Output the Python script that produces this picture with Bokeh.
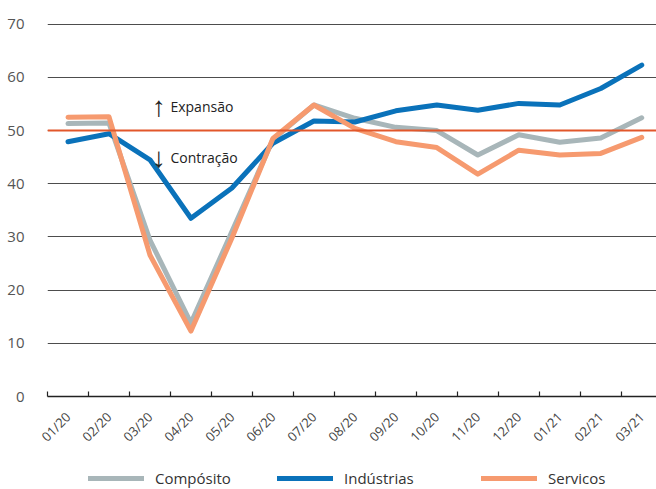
import math
from bokeh.plotting import figure
from bokeh.layouts import column
from bokeh.models import FixedTicker, Range1d, Span, Legend, LegendItem, Label
from bokeh.embed import file_html
from bokeh.resources import INLINE

months = ["01/20", "02/20", "03/20", "04/20", "05/20", "06/20", "07/20", "08/20",
          "09/20", "10/20", "11/20", "12/20", "01/21", "02/21", "03/21"]
composito = [51.3, 51.4, 29.4, 13.8, 31.0, 48.3, 54.8, 52.3, 50.6, 50.0, 45.4, 49.2, 47.8, 48.6, 52.4]
industrias = [47.9, 49.4, 44.5, 33.5, 39.2, 47.6, 51.8, 51.6, 53.7, 54.8, 53.8, 55.1, 54.8, 57.9, 62.3]
servicos = [52.5, 52.6, 26.6, 12.3, 29.8, 48.5, 54.8, 50.4, 47.9, 46.8, 41.8, 46.3, 45.4, 45.7, 48.7]
series_names = ["Comp\u00f3sito", "Ind\u00fastrias", "Servicos"]
y_ticks = [0, 10, 20, 30, 40, 50, 60, 70]

FONT = "Open Sans"
COLORS = ["#A8B6B9", "#0A72BA", "#F69A6F"]
xs = [i + 0.5 for i in range(len(months))]

p = figure(width=656, height=454, output_backend="svg", toolbar_location=None,
           x_range=Range1d(0, 14.86), y_range=Range1d(0, 72),
           min_border_left=47, min_border_right=0, min_border_top=13, min_border_bottom=57)
p.outline_line_color = None
p.background_fill_color = "white"
p.border_fill_color = "white"

# grid
p.xgrid.visible = False
p.ygrid.ticker = FixedTicker(ticks=[t for t in y_ticks if t > 0])
p.ygrid.grid_line_color = "#4d4d4d"
p.ygrid.grid_line_width = 1

# y axis
p.yaxis.ticker = FixedTicker(ticks=y_ticks)
p.yaxis.axis_line_color = None
p.yaxis.major_tick_line_color = None
p.yaxis.minor_tick_line_color = None
p.yaxis.major_label_standoff = 17
p.yaxis.major_label_text_font = FONT
p.yaxis.major_label_text_font_size = "15px"
p.yaxis.major_label_text_color = "#555555"

# x axis
p.xaxis.ticker = FixedTicker(ticks=xs, minor_ticks=list(range(len(months) + 1)))
p.xaxis.major_label_overrides = {x: m for x, m in zip(xs, months)}
p.xaxis.major_tick_line_color = None
p.xaxis.minor_tick_in = 5
p.xaxis.minor_tick_out = 0
p.xaxis.minor_tick_line_color = "#222222"
p.xaxis.minor_tick_line_width = 1.2
p.xaxis.axis_line_color = "#222222"
p.xaxis.axis_line_width = 1.5
p.xaxis.major_label_orientation = math.pi / 4
p.xaxis.major_label_standoff = 12
p.xaxis.major_label_text_font = FONT
p.xaxis.major_label_text_font_size = "13px"
p.xaxis.major_label_text_color = "#444444"

# threshold line
p.add_layout(Span(location=50, dimension="width", line_color="#E2572B", line_width=2))

for vals, col in zip([composito, industrias, servicos], COLORS):
    p.line(xs, vals, line_color=col, line_width=5, line_join="round", line_cap="round")

# annotations
p.add_layout(Label(x=2.72, y=54.8, text="\u2191", text_font=FONT, text_font_size="28px",
                   text_color="#222222", text_align="center", text_baseline="middle"))
p.add_layout(Label(x=3.0, y=54.5, text="Expans\u00e3o", text_font=FONT, text_font_size="14px",
                   text_color="#222222", text_align="left", text_baseline="middle"))
p.add_layout(Label(x=2.72, y=45.3, text="\u2193", text_font=FONT, text_font_size="28px",
                   text_color="#222222", text_align="center", text_baseline="middle"))
p.add_layout(Label(x=3.0, y=45.0, text="Contra\u00e7\u00e3o", text_font=FONT, text_font_size="14px",
                   text_color="#222222", text_align="left", text_baseline="middle"))

# legend strip (lines kept outside the visible range; only their legend glyphs show)
leg = figure(width=656, height=35, output_backend="svg", toolbar_location=None,
             x_range=Range1d(0, 1), y_range=Range1d(0, 1), min_border=0)
leg.axis.visible = False
leg.grid.visible = False
leg.outline_line_color = None
legend_x = [41, 230, 434]
for name, col, lx in zip(series_names, COLORS, legend_x):
    r = leg.line(x=[5, 6], y=[5, 5], line_color=col, line_width=5, line_cap="round")
    lg = Legend(items=[LegendItem(label=name, renderers=[r])], location=(lx, 1),
                orientation="horizontal", glyph_width=56, glyph_height=20,
                label_standoff=11, label_text_font=FONT, label_text_font_size="15px",
                label_text_color="#333333", border_line_color=None,
                background_fill_alpha=0, margin=0, padding=0)
    leg.add_layout(lg, "center")

layout = column(p, leg, spacing=0)
open("out.html", "w").write(file_html(layout, INLINE))
